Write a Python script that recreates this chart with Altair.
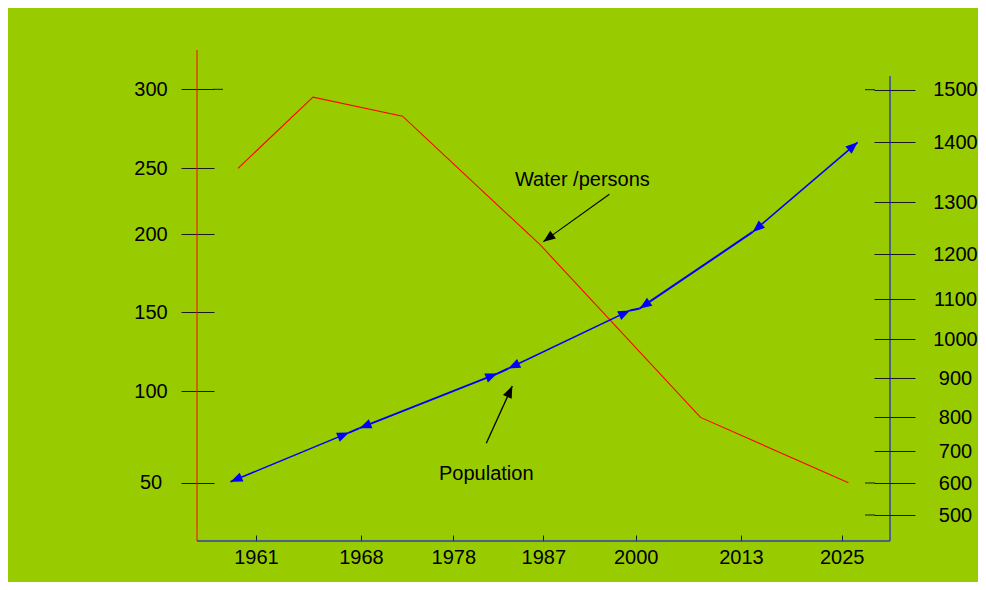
import math
import altair as alt
import pandas as pd

# ---------------- data ----------------
YEAR_TICKS = [1961, 1968, 1978, 1987, 2000, 2013, 2025]
WATER_TICKS = [50, 100, 150, 200, 250, 300]
POP_TICKS = [500, 600, 700, 800, 900, 1000, 1100, 1200, 1300, 1400, 1500]
WATER_LONG_TICKS = [300]
POP_LONG_TICKS = [500, 600, 1500]

# Water per person (left axis)
WATER_YEAR = [1959.8, 1964.8, 1972.5, 1986.7, 2008.0, 2025.8]
WATER_PER_PERSON = [250, 295, 283, 193, 85.6, 50]

# Population (right axis), drawn as a chain of arrows
POP_YEAR = [1959.3, 1967.2, 1967.9, 1982.4, 1983.5, 1999.2, 2000.5, 2014.4, 2026.9]
POPULATION = [604, 755, 768, 912, 925, 1072, 1077, 1243, 1400]

SEG_FROM = [0, 1, 2, 3, 4, 5, 6, 7]
SEG_TO = [1, 2, 3, 4, 5, 6, 7, 8]
SEG_WEIGHT = ["heavy", "light", "medium", "light", "heavy", "light", "light", "heavy"]

HEAD_AT = [0, 1, 2, 3, 4, 5, 6, 7, 8]
HEAD_FROM = [1, 0, 3, 2, 5, 4, 7, 8, 7]

# Annotations (left-axis units)
ANNOT_TEXT = ["Water /persons", "Population"]
ANNOT_YEAR = [1992.5, 1981.3]
ANNOT_VALUE = [241.1, 54.7]
ARROW_YEAR = [1996.3, 1981.3]
ARROW_VALUE = [230.2, 71.5]
ARROW_TIP_YEAR = [1987.0, 1983.9]
ARROW_TIP_VALUE = [195.1, 103.2]

# ---------------- scales (piecewise, as drawn) ----------------
W, H = 693, 491
X_RANGE = [59, 164, 256.3, 346.3, 438.7, 544, 644.7]
WATER_RANGE = [432.7, 341, 262.3, 184, 118.3, 39.3]
POP_RANGE = [465, 433, 401.3, 367.3, 328.3, 289, 249.3, 204.3, 152.3, 92.3, 39.7]


def pw(v, dom, rng):
    j = len(dom) - 1
    i = 0
    for k in range(1, j):
        if dom[k] <= v:
            i = k
    t = (v - dom[i]) / (dom[i + 1] - dom[i])
    return rng[i] + t * (rng[i + 1] - rng[i])


def head_angle(x0, y0, x1, y1, ydom, yrng):
    px0, px1 = pw(x0, YEAR_TICKS, X_RANGE), pw(x1, YEAR_TICKS, X_RANGE)
    py0, py1 = pw(y0, ydom, yrng), pw(y1, ydom, yrng)
    dx, dy = px1 - px0, py1 - py0
    return (math.degrees(math.atan2(dx, -dy)) + 360.0) % 360.0


FONT = "Liberation Sans"
ARROW = "M0,0 L0.4,1 L-0.4,1 Z"
TICK_COLOR = "#1a1a1a"

xscale = alt.Scale(domain=YEAR_TICKS, range=X_RANGE, nice=False, zero=False)
xaxis = alt.Axis(values=YEAR_TICKS, format="d", orient="bottom", offset=-6,
                 tickSize=6, tickColor=TICK_COLOR, domain=False, grid=False,
                 labelFont=FONT, labelFontSize=20, labelColor="black",
                 labelPadding=6.5, labelOverlap=False, labelFlush=False, title=None)
wscale = alt.Scale(domain=WATER_TICKS, range=WATER_RANGE, nice=False, zero=False)
waxis = alt.Axis(values=WATER_TICKS, format="d", orient="left", offset=-17, tickSize=33,
                 tickColor=TICK_COLOR, domain=False, grid=False, labelFont=FONT,
                 labelFontSize=20, labelColor="black", labelAlign="center",
                 labelBaseline="middle", labelPadding=30.5, labelOverlap=False,
                 labelFlush=False, title=None)
pscale = alt.Scale(domain=POP_TICKS, range=POP_RANGE, nice=False, zero=False)
paxis = alt.Axis(values=POP_TICKS, format="d", orient="right", offset=-16, tickSize=41,
                 tickColor=TICK_COLOR, domain=False, grid=False, labelFont=FONT,
                 labelFontSize=20, labelColor="black", labelAlign="center",
                 labelBaseline="middle", labelPadding=40, labelOverlap=False,
                 labelFlush=False, title=None)


def X(f):
    return alt.X(f, type="quantitative", scale=xscale, axis=xaxis)


def YW(f):
    return alt.Y(f, type="quantitative", scale=wscale, axis=waxis)


def YP(f):
    return alt.Y(f, type="quantitative", scale=pscale, axis=paxis)


# ---------------- tables ----------------
water_df = pd.DataFrame({"year": WATER_YEAR, "v": WATER_PER_PERSON})

seg_df = pd.DataFrame({
    "year": [POP_YEAR[a] for a in SEG_FROM],
    "v": [POPULATION[a] for a in SEG_FROM],
    "year2": [POP_YEAR[b] for b in SEG_TO],
    "v2": [POPULATION[b] for b in SEG_TO],
    "weight": SEG_WEIGHT,
})

head_df = pd.DataFrame({
    "year": [POP_YEAR[a] for a in HEAD_AT],
    "v": [POPULATION[a] for a in HEAD_AT],
    "angle": [head_angle(POP_YEAR[f], POPULATION[f], POP_YEAR[a], POPULATION[a],
                         POP_TICKS, POP_RANGE) for a, f in zip(HEAD_AT, HEAD_FROM)],
})

annot_df = pd.DataFrame({"year": ANNOT_YEAR, "v": ANNOT_VALUE, "label": ANNOT_TEXT})
arrow_df = pd.DataFrame({
    "year": ARROW_YEAR, "v": ARROW_VALUE,
    "year2": ARROW_TIP_YEAR, "v2": ARROW_TIP_VALUE,
    "w": ["thin", "thick"],
})
tip_df = pd.DataFrame({
    "year": ARROW_TIP_YEAR, "v": ARROW_TIP_VALUE,
    "angle": [head_angle(a, b, c, d, WATER_TICKS, WATER_RANGE)
              for a, b, c, d in zip(ARROW_YEAR, ARROW_VALUE, ARROW_TIP_YEAR, ARROW_TIP_VALUE)],
})
wlong_df = pd.DataFrame({"v": WATER_LONG_TICKS})
plong_df = pd.DataFrame({"v": POP_LONG_TICKS})

one = alt.Data(values=[{"k": 1}])

# ---------------- frame lines ----------------
frame = alt.layer(
    alt.Chart(one).mark_rule(color="#ff0000", strokeWidth=1).encode(
        x=alt.value(0), y=alt.value(0), y2=alt.value(H)),
    alt.Chart(one).mark_rule(color="#0000ff", strokeWidth=1).encode(
        x=alt.value(W), y=alt.value(26), y2=alt.value(H)),
    alt.Chart(one).mark_rule(color="#3040b0", strokeWidth=1.3).encode(
        x=alt.value(0), x2=alt.value(W), y=alt.value(H)),
)

# ---------------- left group ----------------
wlong = alt.Chart(wlong_df).mark_rule(color=TICK_COLOR, strokeWidth=1).encode(
    y=YW("v"), x=alt.value(16), x2=alt.value(26))

red = alt.Chart(water_df).mark_line(color="#ff0000", strokeWidth=1.1).encode(
    x=X("year"), y=YW("v"))

arrows = alt.Chart(arrow_df).mark_rule(color="black").encode(
    x=X("year"), y=YW("v"), x2="year2", y2="v2",
    strokeWidth=alt.StrokeWidth("w:N", scale=alt.Scale(domain=["thin", "thick"], range=[1.1, 2]),
                                legend=None))

tips = alt.Chart(tip_df).mark_point(shape=ARROW, filled=True, color="black",
                                    opacity=1, size=576, strokeWidth=0).encode(
    x=X("year"), y=YW("v"), angle=alt.Angle("angle:Q", scale=None))

labels = alt.Chart(annot_df).mark_text(font=FONT, fontSize=20, color="black",
                                       align="center", baseline="middle").encode(
    x=X("year"), y=YW("v"), text="label:N")

left = alt.layer(wlong, red, arrows, tips, labels)

# ---------------- right group ----------------
plong = alt.Chart(plong_df).mark_rule(color=TICK_COLOR, strokeWidth=1).encode(
    y=YP("v"), x=alt.value(668), x2=alt.value(678))

segs = alt.Chart(seg_df).mark_rule(color="#0000ff").encode(
    x=X("year"), y=YP("v"), x2="year2", y2="v2",
    strokeWidth=alt.StrokeWidth("weight:N",
                                scale=alt.Scale(domain=["heavy", "medium", "light"],
                                                range=[3.0, 2.2, 1.2]),
                                legend=None))

heads = alt.Chart(head_df).mark_point(shape=ARROW, filled=True, color="#0000ff",
                                      opacity=1, size=576, strokeWidth=0).encode(
    x=X("year"), y=YP("v"), angle=alt.Angle("angle:Q", scale=None))

right = alt.layer(plong, segs, heads)

chart = alt.layer(frame, left, right).resolve_scale(y="independent").properties(
    width=W, height=H,
    padding={"left": 189, "top": 42, "right": 88, "bottom": 41},
    autosize=alt.AutoSizeParams(type="none"),
    background="#99cc00",
).configure_view(stroke=None)

chart.save("out.html", embed_options={"renderer": "svg", "actions": False})
